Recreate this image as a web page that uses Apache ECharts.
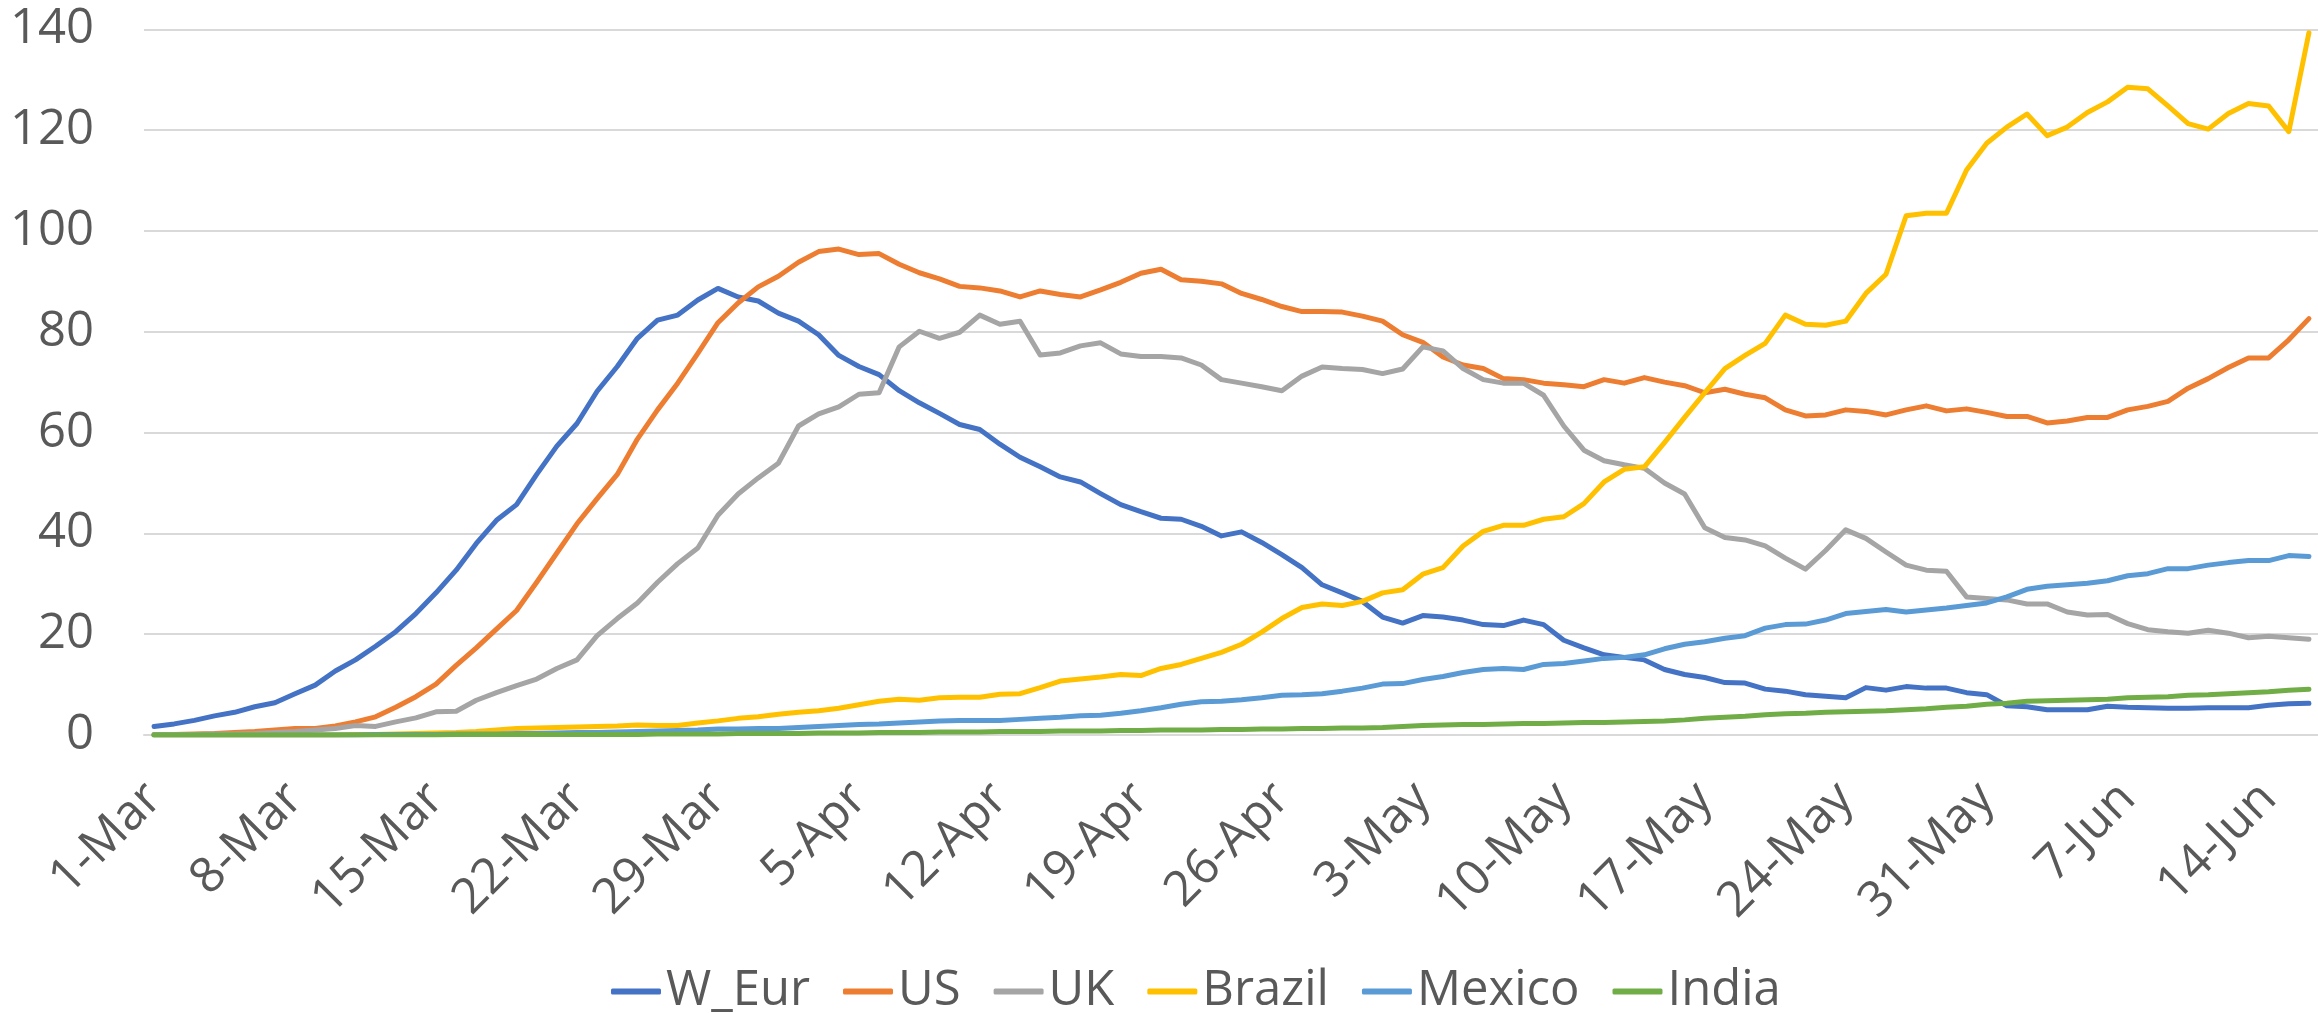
<!DOCTYPE html>
<html>
<head>
<meta charset="utf-8">
<script src="https://cdn.jsdelivr.net/npm/echarts@6/dist/echarts.min.js"></script>
<style>
  html, body { margin: 0; padding: 0; background: #fff; }
  #chart { width: 2318px; height: 1013px; }
</style>
</head>
<body>
<div id="chart"></div>
<script>
// daily dates, 1-Mar .. 16-Jun
const dates = [
  '1-Mar', '2-Mar', '3-Mar', '4-Mar', '5-Mar', '6-Mar', '7-Mar', '8-Mar', '9-Mar', '10-Mar',
  '11-Mar', '12-Mar', '13-Mar', '14-Mar', '15-Mar', '16-Mar', '17-Mar', '18-Mar', '19-Mar', '20-Mar',
  '21-Mar', '22-Mar', '23-Mar', '24-Mar', '25-Mar', '26-Mar', '27-Mar', '28-Mar', '29-Mar', '30-Mar',
  '31-Mar', '1-Apr', '2-Apr', '3-Apr', '4-Apr', '5-Apr', '6-Apr', '7-Apr', '8-Apr', '9-Apr',
  '10-Apr', '11-Apr', '12-Apr', '13-Apr', '14-Apr', '15-Apr', '16-Apr', '17-Apr', '18-Apr', '19-Apr',
  '20-Apr', '21-Apr', '22-Apr', '23-Apr', '24-Apr', '25-Apr', '26-Apr', '27-Apr', '28-Apr', '29-Apr',
  '30-Apr', '1-May', '2-May', '3-May', '4-May', '5-May', '6-May', '7-May', '8-May', '9-May',
  '10-May', '11-May', '12-May', '13-May', '14-May', '15-May', '16-May', '17-May', '18-May', '19-May',
  '20-May', '21-May', '22-May', '23-May', '24-May', '25-May', '26-May', '27-May', '28-May', '29-May',
  '30-May', '31-May', '1-Jun', '2-Jun', '3-Jun', '4-Jun', '5-Jun', '6-Jun', '7-Jun', '8-Jun',
  '9-Jun', '10-Jun', '11-Jun', '12-Jun', '13-Jun', '14-Jun', '15-Jun', '16-Jun'
]

const wEur = [
  1.7, 2.2, 2.9, 3.8, 4.5, 5.6, 6.4, 8.2, 9.9, 12.7,
  14.9, 17.6, 20.5, 24.1, 28.2, 32.7, 38.0, 42.6, 45.7, 51.7,
  57.3, 61.8, 68.2, 73.1, 78.7, 82.3, 83.3, 86.3, 88.6, 86.9,
  86.1, 83.7, 82.1, 79.4, 75.3, 73.1, 71.5, 68.3, 65.9, 63.8,
  61.6, 60.6, 57.7, 55.1, 53.2, 51.2, 50.2, 47.9, 45.7, 44.3,
  43.0, 42.8, 41.4, 39.5, 40.3, 38.2, 35.8, 33.2, 29.8, 28.2,
  26.5, 23.4, 22.2, 23.7, 23.4, 22.8, 21.9, 21.7, 22.8, 21.9,
  18.8, 17.3, 15.9, 15.4, 14.9, 13.0, 12.0, 11.4, 10.4, 10.3,
  9.1, 8.7, 8.0, 7.7, 7.4, 9.4, 8.9, 9.6, 9.3, 9.3,
  8.4, 8.0, 5.8, 5.6, 5.0, 5.0, 5.0, 5.7, 5.5, 5.4,
  5.3, 5.3, 5.4, 5.4, 5.4, 5.9, 6.2, 6.3
]

const us = [
  0.1, 0.1, 0.2, 0.3, 0.5, 0.7, 1.0, 1.3, 1.3, 1.8,
  2.6, 3.6, 5.5, 7.6, 10.1, 13.8, 17.3, 21.0, 24.7, 30.3,
  36.1, 41.9, 46.9, 51.7, 58.7, 64.5, 69.8, 75.7, 81.8, 85.7,
  88.9, 91.0, 93.8, 95.9, 96.4, 95.3, 95.5, 93.4, 91.7, 90.5,
  89.0, 88.7, 88.1, 86.9, 88.1, 87.4, 86.9, 88.3, 89.8, 91.6,
  92.4, 90.3, 90.0, 89.5, 87.6, 86.4, 85.0, 84.0, 84.0, 83.9,
  83.1, 82.1, 79.4, 77.9, 75.0, 73.4, 72.7, 70.7, 70.5, 69.8,
  69.5, 69.1, 70.5, 69.8, 70.9, 70.0, 69.3, 67.9, 68.6, 67.6,
  66.9, 64.5, 63.3, 63.5, 64.5, 64.2, 63.5, 64.5, 65.3, 64.3,
  64.7, 64.0, 63.2, 63.2, 61.9, 62.3, 63.0, 63.0, 64.5, 65.2,
  66.2, 68.8, 70.7, 72.9, 74.8, 74.8, 78.4, 82.6
]

const uk = [
  0.1, 0.1, 0.1, 0.2, 0.2, 0.3, 0.5, 0.7, 1.0, 1.3,
  1.9, 1.7, 2.6, 3.4, 4.6, 4.7, 6.9, 8.4, 9.8, 11.1,
  13.2, 14.9, 19.7, 23.1, 26.2, 30.3, 34.0, 37.1, 43.6, 47.8,
  51.0, 53.9, 61.3, 63.7, 65.1, 67.6, 67.9, 77.0, 80.1, 78.7,
  79.9, 83.3, 81.5, 82.1, 75.4, 75.8, 77.2, 77.8, 75.6, 75.1,
  75.1, 74.8, 73.4, 70.5, 69.8, 69.1, 68.3, 71.2, 73.0, 72.7,
  72.5, 71.7, 72.6, 77.0, 76.2, 72.7, 70.5, 69.8, 69.8, 67.4,
  61.3, 56.5, 54.4, 53.6, 52.9, 50.0, 47.8, 41.1, 39.2, 38.7,
  37.5, 35.1, 32.9, 36.6, 40.7, 39.0, 36.3, 33.7, 32.7, 32.5,
  27.4, 27.1, 26.8, 26.0, 26.0, 24.4, 23.8, 23.9, 22.1, 20.9,
  20.5, 20.2, 20.8, 20.2, 19.3, 19.6, 19.3, 19.0
]

const brazil = [
  0, 0, 0, 0, 0, 0, 0, 0, 0, 0,
  0.1, 0.1, 0.2, 0.3, 0.4, 0.5, 0.7, 1.0, 1.3, 1.4,
  1.5, 1.6, 1.7, 1.8, 2.0, 1.9, 1.9, 2.4, 2.8, 3.3,
  3.6, 4.1, 4.5, 4.8, 5.3, 6.0, 6.7, 7.1, 6.9, 7.4,
  7.5, 7.5, 8.1, 8.2, 9.4, 10.7, 11.1, 11.5, 12.0, 11.8,
  13.2, 14.0, 15.2, 16.4, 18.0, 20.4, 23.1, 25.3, 26.0, 25.7,
  26.5, 28.2, 28.8, 31.9, 33.2, 37.5, 40.4, 41.6, 41.6, 42.8,
  43.3, 45.9, 50.2, 52.7, 53.2, 58.0, 63.0, 67.9, 72.7, 75.3,
  77.7, 83.3, 81.5, 81.3, 82.1, 87.6, 91.4, 103.0, 103.5, 103.5,
  112.1, 117.4, 120.6, 123.2, 118.9, 120.6, 123.5, 125.6, 128.5, 128.2,
  124.8, 121.3, 120.2, 123.3, 125.3, 124.8, 119.7, 139.3
]

const mexico = [
  0, 0, 0, 0, 0, 0, 0, 0, 0, 0,
  0, 0.1, 0.1, 0.1, 0.1, 0.2, 0.2, 0.2, 0.3, 0.3,
  0.4, 0.5, 0.5, 0.6, 0.7, 0.8, 0.9, 1.0, 1.2, 1.2,
  1.3, 1.3, 1.5, 1.7, 1.9, 2.1, 2.2, 2.4, 2.6, 2.8,
  2.9, 2.9, 2.9, 3.1, 3.3, 3.5, 3.8, 3.9, 4.3, 4.8,
  5.4, 6.1, 6.6, 6.7, 7.0, 7.4, 7.9, 8.0, 8.2, 8.7,
  9.3, 10.1, 10.2, 11.0, 11.6, 12.4, 13.0, 13.2, 13.0, 14.0,
  14.2, 14.7, 15.2, 15.4, 15.9, 17.1, 18.0, 18.5, 19.2, 19.7,
  21.2, 21.9, 22.0, 22.8, 24.1, 24.5, 24.9, 24.4, 24.8, 25.2,
  25.7, 26.2, 27.4, 28.9, 29.5, 29.8, 30.1, 30.6, 31.6, 32.0,
  33.0, 33.0, 33.7, 34.2, 34.6, 34.6, 35.6, 35.4
]

const india = [
  0, 0, 0, 0, 0, 0, 0, 0, 0, 0,
  0, 0, 0, 0, 0, 0.1, 0.1, 0.1, 0.1, 0.1,
  0.1, 0.1, 0.1, 0.1, 0.1, 0.2, 0.2, 0.2, 0.2, 0.3,
  0.3, 0.3, 0.3, 0.4, 0.4, 0.4, 0.5, 0.5, 0.5, 0.6,
  0.6, 0.6, 0.7, 0.7, 0.7, 0.8, 0.8, 0.8, 0.9, 0.9,
  1.0, 1.0, 1.0, 1.1, 1.1, 1.2, 1.2, 1.3, 1.3, 1.4,
  1.4, 1.5, 1.7, 1.9, 2.0, 2.1, 2.1, 2.2, 2.3, 2.3,
  2.4, 2.5, 2.5, 2.6, 2.7, 2.8, 3.0, 3.3, 3.5, 3.7,
  4.0, 4.2, 4.3, 4.5, 4.6, 4.7, 4.8, 5.0, 5.2, 5.5,
  5.7, 6.1, 6.3, 6.7, 6.8, 6.9, 7.0, 7.1, 7.4, 7.5,
  7.6, 7.9, 8.0, 8.2, 8.4, 8.6, 8.9, 9.1
]

const seriesNames = ['W_Eur', 'US', 'UK', 'Brazil', 'Mexico', 'India']
const seriesColors = ['#4472C4', '#ED7D31', '#A5A5A5', '#FFC000', '#5B9BD5', '#70AD47']
const seriesData = [wEur, us, uk, brazil, mexico, india]

const fontFamily = "'Open Sans', 'Noto Sans', sans-serif"
const textColor = '#595959'
const gridColor = '#D9D9D9'

const series = seriesNames.map((name, i) => {
  return {
    name: name,
    type: 'line',
    data: seriesData[i],
    symbol: 'none',
    color: seriesColors[i],
    lineStyle: {
      color: seriesColors[i],
      width: 5,
      cap: 'round',
      join: 'round'
    }
  }
})

const option = {
  animation: false,
  backgroundColor: '#fff',
  grid: {
    left: 144,
    top: 29.3,
    width: 2175,
    height: 705.7,
    outerBoundsMode: 'none'
  },
  legend: {
    data: seriesNames,
    left: 606,
    top: 962,
    icon: 'roundRect',
    itemWidth: 50,
    itemHeight: 6,
    itemGap: 33,
    textStyle: {
      color: textColor,
      fontSize: 49,
      fontFamily: fontFamily
    }
  },
  xAxis: {
    type: 'category',
    data: dates,
    boundaryGap: true,
    axisLine: { lineStyle: { color: gridColor, width: 2 } },
    axisTick: {
      interval: 6,
      length: 17,
      lineStyle: { color: gridColor, width: 2 }
    },
    axisLabel: {
      interval: 6,
      rotate: 45,
      margin: 56,
      color: textColor,
      fontSize: 49,
      fontFamily: fontFamily
    },
    splitLine: { show: false }
  },
  yAxis: {
    type: 'value',
    min: 0,
    max: 140,
    interval: 20,
    axisLine: { show: false },
    axisTick: { show: false },
    axisLabel: {
      margin: 50,
      color: textColor,
      fontSize: 49,
      fontFamily: fontFamily
    },
    splitLine: { lineStyle: { color: gridColor, width: 2 } }
  },
  series: series
}

const myChart = echarts.init(document.getElementById('chart'))
myChart.setOption(option)
</script>
</body>
</html>
